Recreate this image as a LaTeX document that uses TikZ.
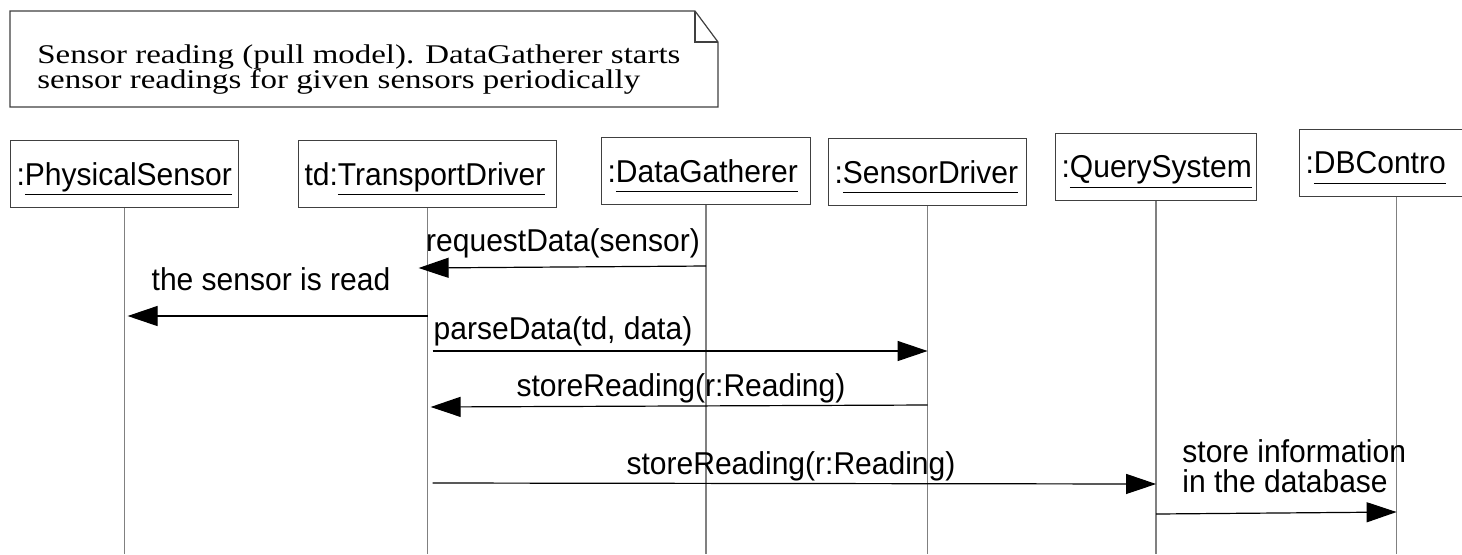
\documentclass[tikz,border=0pt]{standalone}
\usepackage{fontspec}
\setmainfont[FakeStretch=0.95]{Liberation Sans}
\newfontfamily\notefont[FakeStretch=1.22]{Liberation Serif}
\usetikzlibrary{arrows.meta,calc}
\newcommand\ulname[1]{\underline{#1\vphantom{y}}}
\newcommand\objlbl[2]{\raisebox{-2.5pt}[\height][\depth]{#1\ulname{#2}}}
\begin{document}
\begin{tikzpicture}[x=0.5pt,y=-0.5pt,
  lbl/.style={font=\fontsize{15.8}{15}\selectfont, inner sep=0pt},
  obj/.style={draw=black!75, line width=0.6pt, anchor=north west, minimum height=33.5pt,
    inner xsep=3pt, inner ysep=0pt, align=left, font=\fontsize{15.8}{17}\selectfont},
  lifeline/.style={draw=black!50, line width=0.8pt},
  msg/.style={draw=black, line width=0.6pt, -{Triangle[length=15pt,width=10pt]}},
  noteline/.style={draw=black!75, line width=0.6pt}]
\useasboundingbox (0,0) rectangle (1462,554);
\clip (0,0) rectangle (1462,554);
\fill[white] (0,0) rectangle (1462,554);

% note
\draw[noteline] (10,11) -- (695,11) -- (718,42) -- (718,107) -- (10,107) -- cycle;
\draw[noteline] (695,11) -- (695,42) -- (718,42);
\node[anchor=west, align=left, inner sep=0pt, font=\notefont\fontsize{13.5}{12.5}\selectfont] (note) at (37,70)
  {Sensor reading (pull model). DataGatherer starts\\sensor readings for given sensors periodically};

% objects
\node[obj, text width=108pt]   (ps) at (10,140)   {\objlbl{:}{PhysicalSensor}};
\node[obj, text width=123pt]   (td) at (298,140)  {\objlbl{td:}{TransportDriver}};
\node[obj, text width=98.5pt]  (dg) at (601,137)  {\objlbl{:}{DataGatherer}};
\node[obj, text width=93pt]    (sd) at (828,138)  {\objlbl{:}{SensorDriver}};
\node[obj, text width=94.5pt]  (qs) at (1055,133) {\objlbl{:}{QuerySystem}};
\node[obj, text width=91pt]    (db) at (1299,129) {\objlbl{:}{DBContro}};

% lifelines
\foreach \n in {ps,td,dg,sd,qs,db}
  \draw[lifeline] (\n.south) -- (\n.south |- 0,554);

% messages
\draw[msg] (dg.south |- 0,266) -- ($(td.south |- 0,268)+(-9,0)$);
\node[lbl] (l1) at (563,243) {requestData(sensor)};

\draw[msg] (td.south |- 0,316) -- ($(ps.south |- 0,316)+(3,0)$);
\node[lbl] (l2) at (271,279) {the sensor is read};

\draw[msg] ($(td.south |- 0,351)+(5,0)$) -- (sd.south |- 0,351);
\node[lbl] (l3) at (563,331) {parseData(td, data)};

\draw[msg] (sd.south |- 0,405) -- ($(td.south |- 0,407)+(3,0)$);
\node[lbl] (l4) at (681,388) {storeReading(r:Reading)};

\draw[msg] ($(td.south |- 0,483)+(5,0)$) -- (qs.south |- 0,484);
\node[lbl] (l5) at (791,466) {storeReading(r:Reading)};

\draw[msg] (qs.south |- 0,514) -- (db.south |- 0,512);
\node[lbl, anchor=west, align=left] (l6) at (1182,466) {store information\\in the database};
\end{tikzpicture}
\end{document}
